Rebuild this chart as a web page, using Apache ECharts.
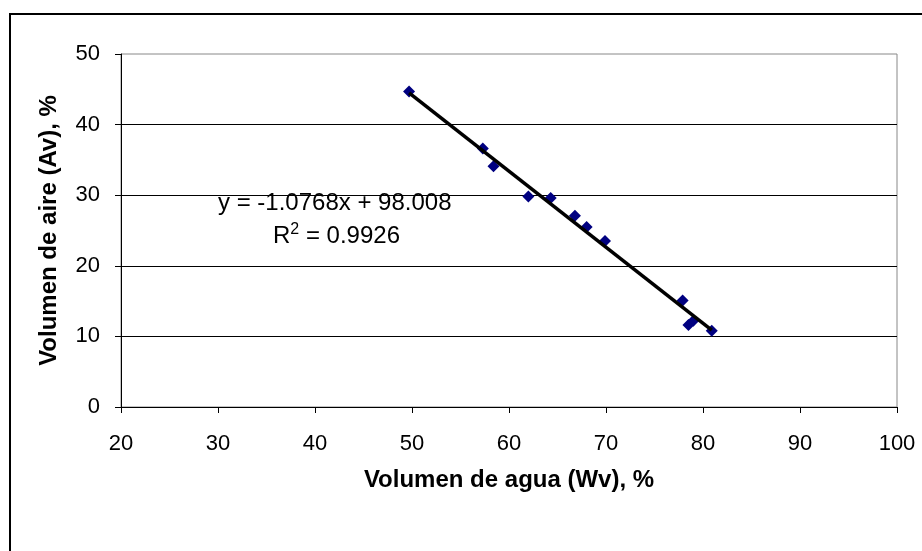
<!DOCTYPE html>
<html>
<head>
<meta charset="utf-8">
<script src="https://cdn.jsdelivr.net/npm/echarts@6/dist/echarts.min.js"></script>
<style>
html,body{margin:0;padding:0;background:#fff;}
#chart{width:922px;height:551px;}
</style>
</head>
<body>
<div id="chart"></div>
<script>
// Data
const waterVolume = [49.7, 57.3, 58.4, 62.0, 64.3, 66.8, 68.0, 69.9, 77.9, 78.5, 79.0, 80.9];
const airVolume   = [44.7, 36.6, 34.1, 29.8, 29.6, 27.1, 25.5, 23.5, 15.1, 11.6, 12.2, 10.8];
const trendX = [49.7, 80.9];
const trendY = [44.5, 10.9];
const xTicks = [20, 30, 40, 50, 60, 70, 80, 90, 100];
const yTicks = [0, 10, 20, 30, 40, 50];
const xTitle = 'Volumen de agua (Wv), %';
const yTitle = 'Volumen de aire (Av), %';
const eqText = 'y = -1.0768x + 98.008';
const r2Value = '0.9926';

const FONT = '"Liberation Sans", Arial, sans-serif';
const chart = echarts.init(document.getElementById('chart'));
chart.setOption({
  animation: false,
  backgroundColor: '#fff',
  grid: { left: 121, right: 25, top: 54, bottom: 144, show: true, borderColor: '#888', borderWidth: 1, backgroundColor: 'transparent' },
  xAxis: {
    type: 'value', min: xTicks[0], max: xTicks[xTicks.length - 1], interval: 10,
    name: xTitle, nameLocation: 'middle', nameGap: 61,
    nameTextStyle: { fontFamily: FONT, fontSize: 24, fontWeight: 'bold', color: '#000' },
    axisLine: { onZero: false, lineStyle: { color: '#000', width: 1 } },
    axisTick: { show: true, length: 6, lineStyle: { color: '#000' } },
    axisLabel: { margin: 26, fontFamily: FONT, fontSize: 22, color: '#000' },
    splitLine: { show: false }
  },
  yAxis: {
    type: 'value', min: yTicks[0], max: yTicks[yTicks.length - 1], interval: 10,
    name: yTitle, nameLocation: 'middle', nameGap: 60, nameRotate: 90,
    nameTextStyle: { fontFamily: FONT, fontSize: 24, fontWeight: 'bold', color: '#000' },
    axisLine: { show: true, lineStyle: { color: '#000', width: 1 } },
    axisTick: { show: true, length: 6, lineStyle: { color: '#000' } },
    axisLabel: { margin: 21, fontFamily: FONT, fontSize: 22, color: '#000' },
    splitLine: { show: true, showMinLine: false, showMaxLine: false, lineStyle: { color: '#000', width: 1 } }
  },
  series: [
    {
      type: 'scatter', symbol: 'diamond', symbolSize: [12, 12],
      itemStyle: { color: '#000080', opacity: 1 },
      data: waterVolume.map((x, i) => [x, airVolume[i]]), z: 2
    },
    {
      type: 'line', symbol: 'none', silent: true,
      lineStyle: { color: '#000', width: 3.5 },
      data: trendX.map((x, i) => [x, trendY[i]]), z: 3
    }
  ],
  graphic: [
    { type: 'rect', shape: { x: 10, y: 14, width: 2000, height: 2000 }, style: { fill: 'none', stroke: '#000', lineWidth: 2 }, silent: true, z: 100 },
    { type: 'text', left: 218, top: 191, style: { text: eqText, font: '24px ' + FONT, fill: '#000' }, z: 100 },
    { type: 'text', left: 273, top: 222, style: {
        text: '{n|R}{s|2}{n| = ' + r2Value + '}',
        rich: {
          n: { fontFamily: FONT, fontSize: 24, fill: '#000', color: '#000' },
          s: { fontFamily: FONT, fontSize: 16, fill: '#000', color: '#000', padding: [0, 0, 12, 0] }
        }
      }, z: 100 }
  ]
});
</script>
</body>
</html>
